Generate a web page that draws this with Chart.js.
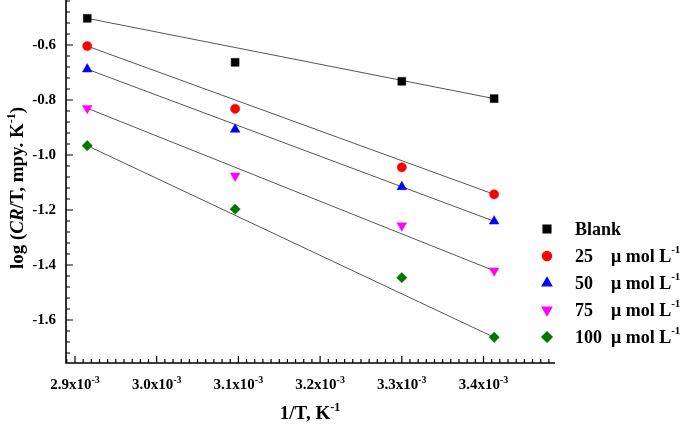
<!DOCTYPE html>
<html>
<head>
<meta charset="utf-8">
<script src="https://cdn.jsdelivr.net/npm/chart.js@4.4.1/dist/chart.umd.min.js"></script>
<style>
  html, body { margin: 0; padding: 0; background: #fff; }
  #wrap { width: 685px; height: 424px; }
</style>
</head>
<body>
<div id="wrap"><canvas id="out"></canvas></div>
<script>
// 1/T values (K^-1)
const invT = [2.915e-3, 3.096e-3, 3.300e-3, 3.413e-3];

// log(CR/T) for each inhibitor concentration
const blank = [-0.503, -0.663, -0.732, -0.795];
const c25 = [-0.604, -0.832, -1.045, -1.143];
const c50 = [-0.688, -0.907, -1.116, -1.241];
const c75 = [-0.830, -1.076, -1.257, -1.421];
const c100 = [-0.966, -1.197, -1.446, -1.663];

const seriesNames = ["Blank", "25", "50", "75", "100"];
const seriesColors = ["#000000", "#ff0000", "#0000ff", "#ff00ff", "#007700"];
const seriesShapes = ["rect", "circle", "triangle", "triangle", "rectRot"];
const seriesRotation = [0, 0, 0, 180, 0];
const seriesRadius = [5.6, 4.6, 5.6, 5.6, 5.2];

const xTicks = [2.9e-3, 3.0e-3, 3.1e-3, 3.2e-3, 3.3e-3, 3.4e-3];
const xTickLabels = ["2.9x10", "3.0x10", "3.1x10", "3.2x10", "3.3x10", "3.4x10"];
const yTicks = [-0.6, -0.8, -1.0, -1.2, -1.4, -1.6];
const yTickLabels = ["-0.6", "-0.8", "-1.0", "-1.2", "-1.4", "-1.6"];

const allSeries = [blank, c25, c50, c75, c100];

// straight trend line from first to last point of a series
function trendLine(ys) {
  const n = invT.length;
  return [{ x: invT[0], y: ys[0] }, { x: invT[n - 1], y: ys[n - 1] }];
}

const datasets = [];
allSeries.forEach((ys, i) => {
  datasets.push({
    label: seriesNames[i],
    data: invT.map((x, k) => ({ x: x, y: ys[k] })),
    showLine: false,
    pointStyle: seriesShapes[i],
    pointRotation: seriesRotation[i],
    pointRadius: seriesRadius[i],
    pointBackgroundColor: seriesColors[i],
    pointBorderColor: seriesColors[i],
    pointBorderWidth: 0.5,
    order: 1
  });
});
allSeries.forEach((ys) => {
  datasets.push({
    data: trendLine(ys),
    showLine: true,
    borderColor: "#555555",
    borderWidth: 1,
    pointRadius: 0,
    order: 2
  });
});

const SERIF = '"Liberation Serif", "Times New Roman", serif';

// draw a run of text pieces (some smaller and raised)
function drawParts(ctx, parts, x, y, align) {
  let total = 0;
  parts.forEach(p => { ctx.font = p.font; p.w = ctx.measureText(p.t).width; total += p.w; });
  let cx = x;
  if (align === "center") cx = x - total / 2;
  if (align === "right") cx = x - total;
  parts.forEach(p => {
    ctx.font = p.font;
    ctx.fillText(p.t, cx, y + (p.dy || 0));
    cx += p.w;
  });
}

const axesPlugin = {
  id: "axesPlugin",
  afterDraw(chart) {
    const ctx = chart.ctx;
    const xs = chart.scales.x, ys = chart.scales.y;
    const area = chart.chartArea;
    ctx.save();
    ctx.strokeStyle = "#000";
    ctx.fillStyle = "#000";

    // axis lines
    ctx.lineWidth = 1.6;
    ctx.beginPath();
    ctx.moveTo(area.left, area.top);
    ctx.lineTo(area.left, area.bottom);
    ctx.lineTo(area.right, area.bottom);
    ctx.stroke();

    // inward ticks
    ctx.lineWidth = 1.2;
    ctx.beginPath();
    for (let k = 0; ; k++) {
      const v = 2.89e-3 + k * 0.01e-3;
      if (v > xs.max) break;
      const px = xs.getPixelForValue(v);
      const major = k % 10 === 1;
      ctx.moveTo(px, area.bottom);
      ctx.lineTo(px, area.bottom - (major ? 7 : 4));
    }
    for (let k = -4; ; k++) {
      const v = -0.6 - k * 0.04;
      if (v < ys.min) break;
      if (v > ys.max) continue;
      const py = ys.getPixelForValue(v);
      const major = k % 5 === 0;
      ctx.moveTo(area.left, py);
      ctx.lineTo(area.left + (major ? 7 : 4), py);
    }
    ctx.stroke();

    // tick labels
    ctx.textBaseline = "alphabetic";
    xTicks.forEach((v, i) => {
      drawParts(ctx, [
        { t: xTickLabels[i], font: "bold 15px " + SERIF },
        { t: "-3", font: "bold 10px " + SERIF, dy: -6 }
      ], xs.getPixelForValue(v), 389, "center");
    });
    ctx.textBaseline = "middle";
    yTicks.forEach((v, i) => {
      drawParts(ctx, [{ t: yTickLabels[i], font: "bold 15px " + SERIF }], 56, ys.getPixelForValue(v), "right");
    });

    // axis titles
    ctx.textBaseline = "alphabetic";
    drawParts(ctx, [
      { t: "1/T, K", font: "bold 19px " + SERIF },
      { t: "-1", font: "bold 12px " + SERIF, dy: -8 }
    ], 310, 419, "center");

    ctx.save();
    ctx.translate(23, 188);
    ctx.rotate(-Math.PI / 2);
    drawParts(ctx, [
      { t: "log (", font: "bold 19px " + SERIF },
      { t: "CR", font: "italic bold 19px " + SERIF },
      { t: "/T, mpy. K", font: "bold 19px " + SERIF },
      { t: "-1", font: "bold 12px " + SERIF, dy: -8 },
      { t: ")", font: "bold 19px " + SERIF }
    ], 0, 0, "center");
    ctx.restore();

    // legend
    ctx.textBaseline = "middle";
    seriesNames.forEach((name, i) => {
      const ly = 229 + i * 27;
      ctx.fillStyle = seriesColors[i];
      ctx.strokeStyle = seriesColors[i];
      Chart.helpers.drawPoint(ctx, {
        pointStyle: seriesShapes[i],
        radius: seriesRadius[i],
        rotation: seriesRotation[i],
        borderWidth: 0.5
      }, 547, ly);
      ctx.fillStyle = "#000";
      drawParts(ctx, [{ t: name, font: "bold 18px " + SERIF }], 575, ly + 1, "left");
      if (i > 0) {
        drawParts(ctx, [
          { t: "\u03bc mol L", font: "bold 18px " + SERIF },
          { t: "-1", font: "bold 11px " + SERIF, dy: -7 }
        ], 611, ly + 1, "left");
      }
    });

    ctx.restore();
  }
};

const chartConfig = {
  type: "scatter",
  data: { datasets: datasets },
  options: {
    responsive: true,
    maintainAspectRatio: false,
    animation: false,
    layout: { autoPadding: false, padding: { left: 66, right: 130, top: 0, bottom: 61 } },
    plugins: { legend: { display: false }, tooltip: { enabled: false } },
    scales: {
      x: { type: "linear", display: false, min: 2.889e-3, max: 3.4875e-3 },
      y: { type: "linear", display: false, min: -1.7564, max: -0.4364 }
    }
  },
  plugins: [axesPlugin]
};

window.chart = new Chart(document.getElementById("out").getContext("2d"), chartConfig);
</script>
</body>
</html>
